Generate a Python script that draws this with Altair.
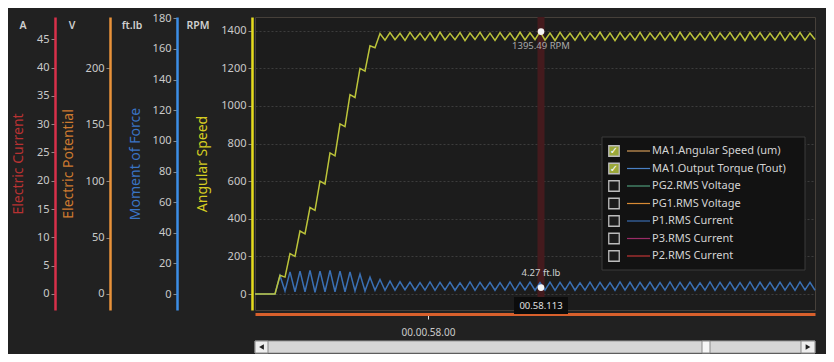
import altair as alt
import pandas as pd

# ---------------- data ----------------
times = [57827, 57847,
         57852, 57857, 57862, 57867, 57872, 57877, 57882, 57887, 57892, 57897,
         57902, 57907, 57912, 57917, 57922, 57927, 57932, 57937, 57942, 57947,
         57952, 57957, 57962, 57967, 57972, 57977, 57982, 57987, 57992, 57997,
         58002, 58007, 58012, 58017, 58022, 58027, 58032, 58037, 58042, 58047,
         58052, 58057, 58062, 58067, 58072, 58077, 58082, 58087, 58092, 58097,
         58102, 58107, 58112, 58117, 58122, 58127, 58132, 58137, 58142, 58147,
         58152, 58157, 58162, 58167, 58172, 58177, 58182, 58187, 58192, 58197,
         58202, 58207, 58212, 58217, 58222, 58227, 58232, 58237, 58242, 58247,
         58252, 58257, 58262, 58267, 58272, 58277, 58282, 58287, 58292, 58297,
         58302, 58307, 58312, 58317, 58322, 58327, 58332, 58337, 58342, 58347,
         58352, 58357, 58362, 58367, 58372, 58377, 58382, 58387]

speed_rpm = [0, 0,
             100, 90, 215, 200, 335, 320, 460, 445, 600, 585,
             750, 735, 905, 890, 1060, 1045, 1200, 1185, 1320, 1310,
             1385, 1350, 1390, 1352, 1386, 1349, 1391, 1353, 1387, 1350,
             1389, 1348, 1392, 1351, 1386, 1352, 1390, 1347, 1388, 1353,
             1391, 1350, 1387, 1349, 1390, 1352, 1388, 1350, 1392, 1351,
             1389, 1353, 1395, 1350, 1388, 1348, 1391, 1352, 1386, 1350,
             1390, 1349, 1387, 1353, 1392, 1350, 1388, 1347, 1390, 1352,
             1386, 1350, 1391, 1349, 1388, 1353, 1390, 1350, 1387, 1348,
             1392, 1351, 1389, 1352, 1386, 1350, 1391, 1349, 1388, 1353,
             1390, 1350, 1387, 1348, 1392, 1352, 1389, 1350, 1386, 1351,
             1391, 1349, 1388, 1352, 1390, 1350, 1387, 1353]

torque_ftlb = [0, 0,
               12, 2, 14.5, 1.5, 15, 1.5, 15.5, 1.2, 15, 1.5,
               15.5, 1.5, 15, 1.5, 14.5, 2, 13, 2, 11, 2.5,
               9.5, 2.5, 8.5, 2.5, 8, 2.8, 7.8, 2.5, 7.5, 2.6,
               7.9, 2.4, 7.6, 2.7, 7.8, 2.5, 7.4, 2.6, 7.9, 2.4,
               7.6, 2.8, 7.7, 2.5, 7.5, 2.6, 7.9, 2.4, 7.6, 2.7,
               7.8, 2.5, 7.5, 2.6, 7.8, 2.4, 7.6, 2.7, 7.9, 2.5,
               7.4, 2.6, 7.8, 2.4, 7.6, 2.7, 7.5, 2.5, 7.9, 2.6,
               7.7, 2.4, 7.6, 2.8, 7.8, 2.5, 7.5, 2.6, 7.9, 2.4,
               7.6, 2.7, 7.8, 2.5, 7.4, 2.6, 7.9, 2.4, 7.6, 2.7,
               7.8, 2.5, 7.5, 2.6, 7.9, 2.4, 7.7, 2.7, 7.6, 2.5,
               7.8, 2.6, 7.5, 2.4, 7.9, 2.7, 7.6, 2.5]

a_ticks = [0, 5, 10, 15, 20, 25, 30, 35, 40, 45]
v_ticks = [0, 50, 100, 150, 200]
f_ticks = [0, 20, 40, 60, 80, 100, 120, 140, 160, 180]
rpm_ticks = [0, 200, 400, 600, 800, 1000, 1200, 1400]
x_ticks = [58000]

cursor_t = 58113
cursor_speed = 1395.49
cursor_torque = 4.27
cursor_label = "00.58.113"

legend_names = ["MA1.Angular Speed (um)", "MA1.Output Torque (Tout)", "PG2.RMS Voltage",
                "PG1.RMS Voltage", "P1.RMS Current", "P3.RMS Current", "P2.RMS Current"]
legend_colors = ["#d09a58", "#4a80c4", "#4e9a78", "#d88a34", "#3a6cb0", "#9a2c66", "#c03434"]
legend_checked = ["yes", "yes", "no", "no", "no", "no", "no"]

units = ["A", "V", "ft.lb", "RPM"]

# ---------------- frames ----------------
df = pd.DataFrame({"t": times, "speed": speed_rpm, "torque": torque_ftlb})
dcur = pd.DataFrame({"t": [cursor_t], "t0": [cursor_t - 27], "t1": [cursor_t + 27],
                     "speed": [cursor_speed], "torque": [cursor_torque],
                     "slab": [f"{cursor_speed:.2f} RPM"], "tlab": [f"{cursor_torque:.2f} ft.lb"],
                     "time": [cursor_label]})
dleg = pd.DataFrame({"row": list(range(len(legend_names))), "name": legend_names,
                     "lc": legend_colors, "checked": legend_checked})
one = pd.DataFrame({"k": [0]})

W, H = 560, 293
LABEL = "#cacaca"
FONT = "Noto Sans"

xscale = alt.Scale(domain=[57827, 58387], nice=False, zero=False)
xaxis = alt.Axis(values=x_ticks, labelExpr="'00.00.' + format(datum.value / 1000, '.2f')",
                 domainColor="#d8602c", domainWidth=3, offset=4, tickColor="#e0e0e0",
                 tickSize=5, labelPadding=8, labelFontSize=10, grid=False, title=None)


def X(field):
    return alt.X(field, scale=xscale, axis=xaxis)


def yaxis(offset, color, title, tcolor, values, tpad, grid=False):
    return alt.Axis(orient="left", offset=offset, values=values, format="d", domainColor=color,
                    domainWidth=2.5, tickColor="#8a8a8a", tickSize=4, labelPadding=2,
                    title=title, titleColor=tcolor, titlePadding=tpad, grid=grid,
                    gridColor="#3c3c3c", gridDash=[2, 2], labelColor=LABEL)


a_scale = alt.Scale(domain=[-2.83, 48.94], nice=False, zero=False)
v_scale = alt.Scale(domain=[-14.2, 245.5], nice=False, zero=False)
f_scale = alt.Scale(domain=[-10.4, 180.85], nice=False, zero=False)
r_scale = alt.Scale(domain=[-85, 1473], nice=False, zero=False)

a_axis = yaxis(200, "#d8304a", "Electric Current", "#b83232", a_ticks, 11)
v_axis = yaxis(145, "#e8923a", "Electric Potential", "#cc7a30", v_ticks, 10)
f_axis = yaxis(78, "#3c8ee6", "Moment of Force", "#3a74c4", f_ticks, 10)
r_axis = yaxis(3, "#e6dc1e", "Angular Speed", "#d4cc22", rpm_ticks, 11, grid=True)

# ---------------- layers ----------------
layer_a = alt.Chart(pd.DataFrame({"v": a_ticks})).mark_point(opacity=0).encode(
    x=alt.value(0), y=alt.Y("v:Q", scale=a_scale, axis=a_axis))
layer_v = alt.Chart(pd.DataFrame({"v": v_ticks})).mark_point(opacity=0).encode(
    x=alt.value(0), y=alt.Y("v:Q", scale=v_scale, axis=v_axis))

cursor_band = alt.Chart(dcur).mark_rule(strokeWidth=7, color="#441a1d").encode(
    x=X("t:Q"), y=alt.value(0), y2=alt.value(282))

torque_layer = alt.layer(
    alt.Chart(df).mark_line(color="#3a70b4", strokeWidth=1.5).encode(
        x=X("t:Q"), y=alt.Y("torque:Q", scale=f_scale, axis=f_axis)),
    alt.Chart(dcur).mark_circle(color="#f4f4f4", size=45, opacity=1).encode(
        x=X("t:Q"), y=alt.Y("torque:Q", scale=f_scale, axis=f_axis)),
    alt.Chart(dcur).mark_text(color="#d0d0d0", fontSize=9.5, dy=-15, font=FONT).encode(
        x=X("t:Q"), y=alt.Y("torque:Q", scale=f_scale, axis=f_axis), text="tlab:N"),
)

speed_layer = alt.layer(
    alt.Chart(df).mark_line(color="#bcc43a", strokeWidth=1.5).encode(
        x=X("t:Q"), y=alt.Y("speed:Q", scale=r_scale, axis=r_axis)),
    alt.Chart(dcur).mark_circle(color="#f4f4f4", size=45, opacity=1).encode(
        x=X("t:Q"), y=alt.Y("speed:Q", scale=r_scale, axis=r_axis)),
    alt.Chart(dcur).mark_text(color="#a8a8a8", fontSize=9.5, dy=14, font=FONT).encode(
        x=X("t:Q"), y=alt.Y("speed:Q", scale=r_scale, axis=r_axis), text="slab:N"),
)

time_box = alt.layer(
    alt.Chart(dcur).mark_rect(color="#0c0c0c").encode(
        x=X("t0:Q"), x2="t1:Q", y=alt.value(280), y2=alt.value(297)),
    alt.Chart(dcur).mark_text(color="#e0e0e0", fontSize=9.5, font=FONT).encode(
        x=X("t:Q"), y=alt.value(289), text="time:N"),
)

# legend
ly = alt.Y("row:Q", scale=alt.Scale(domain=[0, 6], range=[134, 239]), axis=None)
legend_layer = alt.layer(
    alt.Chart(one).mark_rect(fill="#121212", stroke="#3a3a3a", strokeWidth=1).encode(
        x=alt.value(347), x2=alt.value(550), y=alt.value(120), y2=alt.value(253)),
    alt.Chart(dleg).mark_point(shape="square", filled=True, size=110, stroke="#bcbcbc",
                               strokeWidth=1.3, opacity=1).encode(
        x=alt.value(359), y=ly,
        color=alt.Color("checked:N", scale=alt.Scale(domain=["yes", "no"],
                                                     range=["#9aa83a", "#1c1c1c"]), legend=None)),
    alt.Chart(dleg).transform_filter("datum.checked == 'yes'").mark_text(
        text="✓", color="#ffffff", fontSize=10, fontWeight="bold", font="DejaVu Sans").encode(
        x=alt.value(359), y=ly),
    alt.Chart(dleg).mark_rule(strokeWidth=1.2).encode(
        x=alt.value(372), x2=alt.value(395), y=ly, color=alt.Color("lc:N", scale=None)),
    alt.Chart(dleg).mark_text(align="left", color="#d4d4d4", fontSize=11, font=FONT).encode(
        x=alt.value(397), y=ly, text="name:N"),
)

# unit labels
unit_x = [-232, -183, -123, -57]
unit_layers = [
    alt.Chart(one).mark_text(text=u, color="#cfcfcf", fontSize=10.5, fontWeight=600,
                             font=FONT).encode(x=alt.value(px), y=alt.value(9))
    for u, px in zip(units, unit_x)
]

# scrollbar
scroll = alt.layer(
    alt.Chart(one).mark_rect(fill="#d6d6d6", stroke="#9a9a9a", strokeWidth=1).encode(
        x=alt.value(0), x2=alt.value(560), y=alt.value(324), y2=alt.value(336)),
    alt.Chart(one).mark_rect(fill="#eeeeee", stroke="#888888", strokeWidth=1).encode(
        x=alt.value(0), x2=alt.value(13), y=alt.value(324), y2=alt.value(336)),
    alt.Chart(one).mark_rect(fill="#eeeeee", stroke="#888888", strokeWidth=1).encode(
        x=alt.value(546), x2=alt.value(560), y=alt.value(324), y2=alt.value(336)),
    alt.Chart(one).mark_rect(fill="#f6f6f6", stroke="#8a8a8a", strokeWidth=1).encode(
        x=alt.value(447), x2=alt.value(455), y=alt.value(324), y2=alt.value(336)),
    alt.Chart(one).mark_point(shape="triangle-left", filled=True, size=30, color="#222222",
                              opacity=1).encode(x=alt.value(6.5), y=alt.value(330)),
    alt.Chart(one).mark_point(shape="triangle-right", filled=True, size=30, color="#222222",
                              opacity=1).encode(x=alt.value(553), y=alt.value(330)),
)

chart = alt.layer(
    layer_a, layer_v, cursor_band, torque_layer, speed_layer, time_box, legend_layer,
    *unit_layers, scroll
).resolve_scale(y="independent").properties(
    width=W, height=H, background="#212121",
    padding={"left": 247, "top": 9, "right": 11, "bottom": 44},
    autosize=alt.AutoSizeParams(type="none"),
).configure_view(
    fill="#1c1c1c", stroke="#46403a", strokeWidth=1
).configure_axis(
    labelFont=FONT, labelFontSize=11, labelColor=LABEL, titleFont=FONT, titleFontSize=14,
    titleFontWeight="normal", grid=False
).configure_text(font=FONT)

chart.save("out.html", embed_options={"renderer": "svg", "actions": False})
